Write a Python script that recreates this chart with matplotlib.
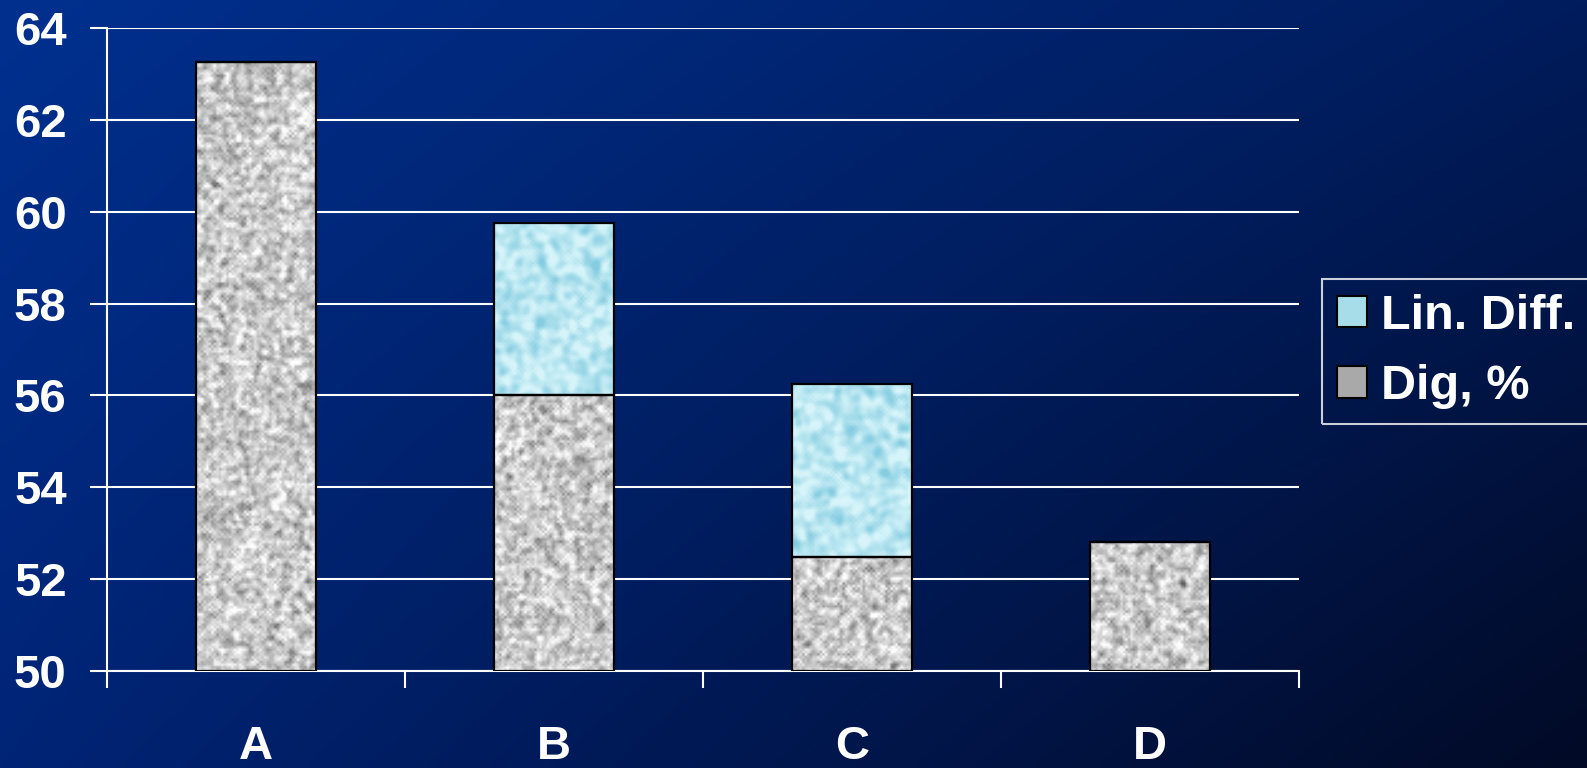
import numpy as np
import matplotlib
matplotlib.use("Agg")
import matplotlib.pyplot as plt
from matplotlib.patches import Patch

categories = ["A", "B", "C", "D"]
dig = [63.25, 56.0, 52.48, 52.8]
lin_diff = [0.0, 3.75, 3.77, 0.0]
y_ticks = [50, 52, 54, 56, 58, 60, 62, 64]

plt.rcParams['font.family'] = ['Liberation Sans', 'DejaVu Sans']
plt.rcParams['font.weight'] = 'bold'

W, H = 1587, 768
fig = plt.figure(figsize=(W / 100, H / 100), dpi=100)

# background gradient (corner colours)
bg = fig.add_axes([0, 0, 1, 1], zorder=-10)
u = np.linspace(0, 1, 200)[None, :]
v = np.linspace(0, 1, 100)[:, None]
tl = np.array([0, 48, 143]) / 255
tr = np.array([0, 28, 92]) / 255
bl = np.array([0, 36, 118]) / 255
br = np.array([2, 10, 38]) / 255
grad = ((1 - u)[..., None] * (1 - v)[..., None] * tl + u[..., None] * (1 - v)[..., None] * tr
        + (1 - u)[..., None] * v[..., None] * bl + u[..., None] * v[..., None] * br)
bg.imshow(grad, aspect='auto', extent=[0, 1, 0, 1], interpolation='bilinear')
bg.axis('off')

ax = fig.add_axes([107 / W, 1 - 671 / H, (1299 - 107) / W, (671 - 28) / H])
ax.patch.set_alpha(0)

x = np.arange(len(categories))
bw = 0.405
b1 = ax.bar(x, np.array(dig) - 50, bw, bottom=50, facecolor='none', edgecolor='black', lw=1.6, zorder=3)
b2 = ax.bar(x, lin_diff, bw, bottom=dig, facecolor='none', edgecolor='black', lw=1.6, zorder=3)

rng = np.random.default_rng(7)


def blur(a, n=1):
    for _ in range(n):
        a = (a + np.roll(a, 1, 0) + np.roll(a, -1, 0) + np.roll(a, 1, 1) + np.roll(a, -1, 1)) / 5
    return a


def granite(h, w):
    n = blur(rng.normal(size=(h, w)), 1)
    n = (n - n.mean()) / n.std()
    g = np.clip(0.79 + 0.11 * n, 0.2, 1.0)
    return np.dstack([g, g, g])


def water(h, w):
    n = blur(rng.normal(size=(h, w)), 3)
    n = (n - n.mean()) / n.std()
    t = np.clip(0.65 + 0.25 * n, 0, 1)[..., None]
    lo = np.array([0.52, 0.80, 0.88])
    hi = np.array([0.84, 0.96, 0.98])
    return lo * (1 - t) + hi * t


for bars, tex in ((b1, granite), (b2, water)):
    for p in bars:
        if p.get_height() <= 0:
            continue
        px_h = p.get_height() * 46
        img = tex(max(int(px_h / 2.5), 2), 48)
        im = ax.imshow(img, extent=[p.get_x(), p.get_x() + p.get_width(), p.get_y(), p.get_y() + p.get_height()],
                       aspect='auto', interpolation='bilinear', zorder=2)
        im.set_clip_path(p)

ax.set_xlim(-0.5, 3.5)
ax.set_ylim(50, 64)
ax.set_yticks(y_ticks)
ax.set_yticklabels([str(t) for t in y_ticks], fontsize=34, color='white', fontweight='bold')
ax.set_xticks(x)
ax.set_xticklabels(categories, fontsize=34, color='white', fontweight='bold')
ax.set_xticks([-0.5, 0.5, 1.5, 2.5, 3.5], minor=True)
ax.tick_params(axis='x', which='major', length=0, pad=39)
ax.tick_params(axis='x', which='minor', length=12, width=1.5, color='white', direction='out')
ax.tick_params(axis='y', length=12, width=1.5, color='white', direction='out', pad=17)
ax.grid(axis='y', color='white', lw=1.5, zorder=1)
ax.set_axisbelow(True)
for s in ('top', 'right'):
    ax.spines[s].set_visible(False)
for s in ('left', 'bottom'):
    ax.spines[s].set_color('white')
    ax.spines[s].set_linewidth(1.5)

handles = [Patch(facecolor='#a6dde9', edgecolor='black', lw=1.5, label='Lin. Diff.'),
           Patch(facecolor='#a9a9a9', edgecolor='black', lw=1.5, label='Dig, %')]
leg = fig.legend(handles=handles, loc='upper left', bbox_to_anchor=(1322 / W, 1 - 279 / H),
                 fontsize=35, frameon=True, fancybox=False, handlelength=0.62, handleheight=0.62,
                 handletextpad=0.3, labelspacing=0.53, borderpad=0.3, borderaxespad=0)
leg.get_frame().set_facecolor('none')
leg.get_frame().set_edgecolor('white')
leg.get_frame().set_linewidth(1.5)
for t in leg.get_texts():
    t.set_color('white')
    t.set_fontweight('bold')

fig.savefig('out.png', dpi=100)
